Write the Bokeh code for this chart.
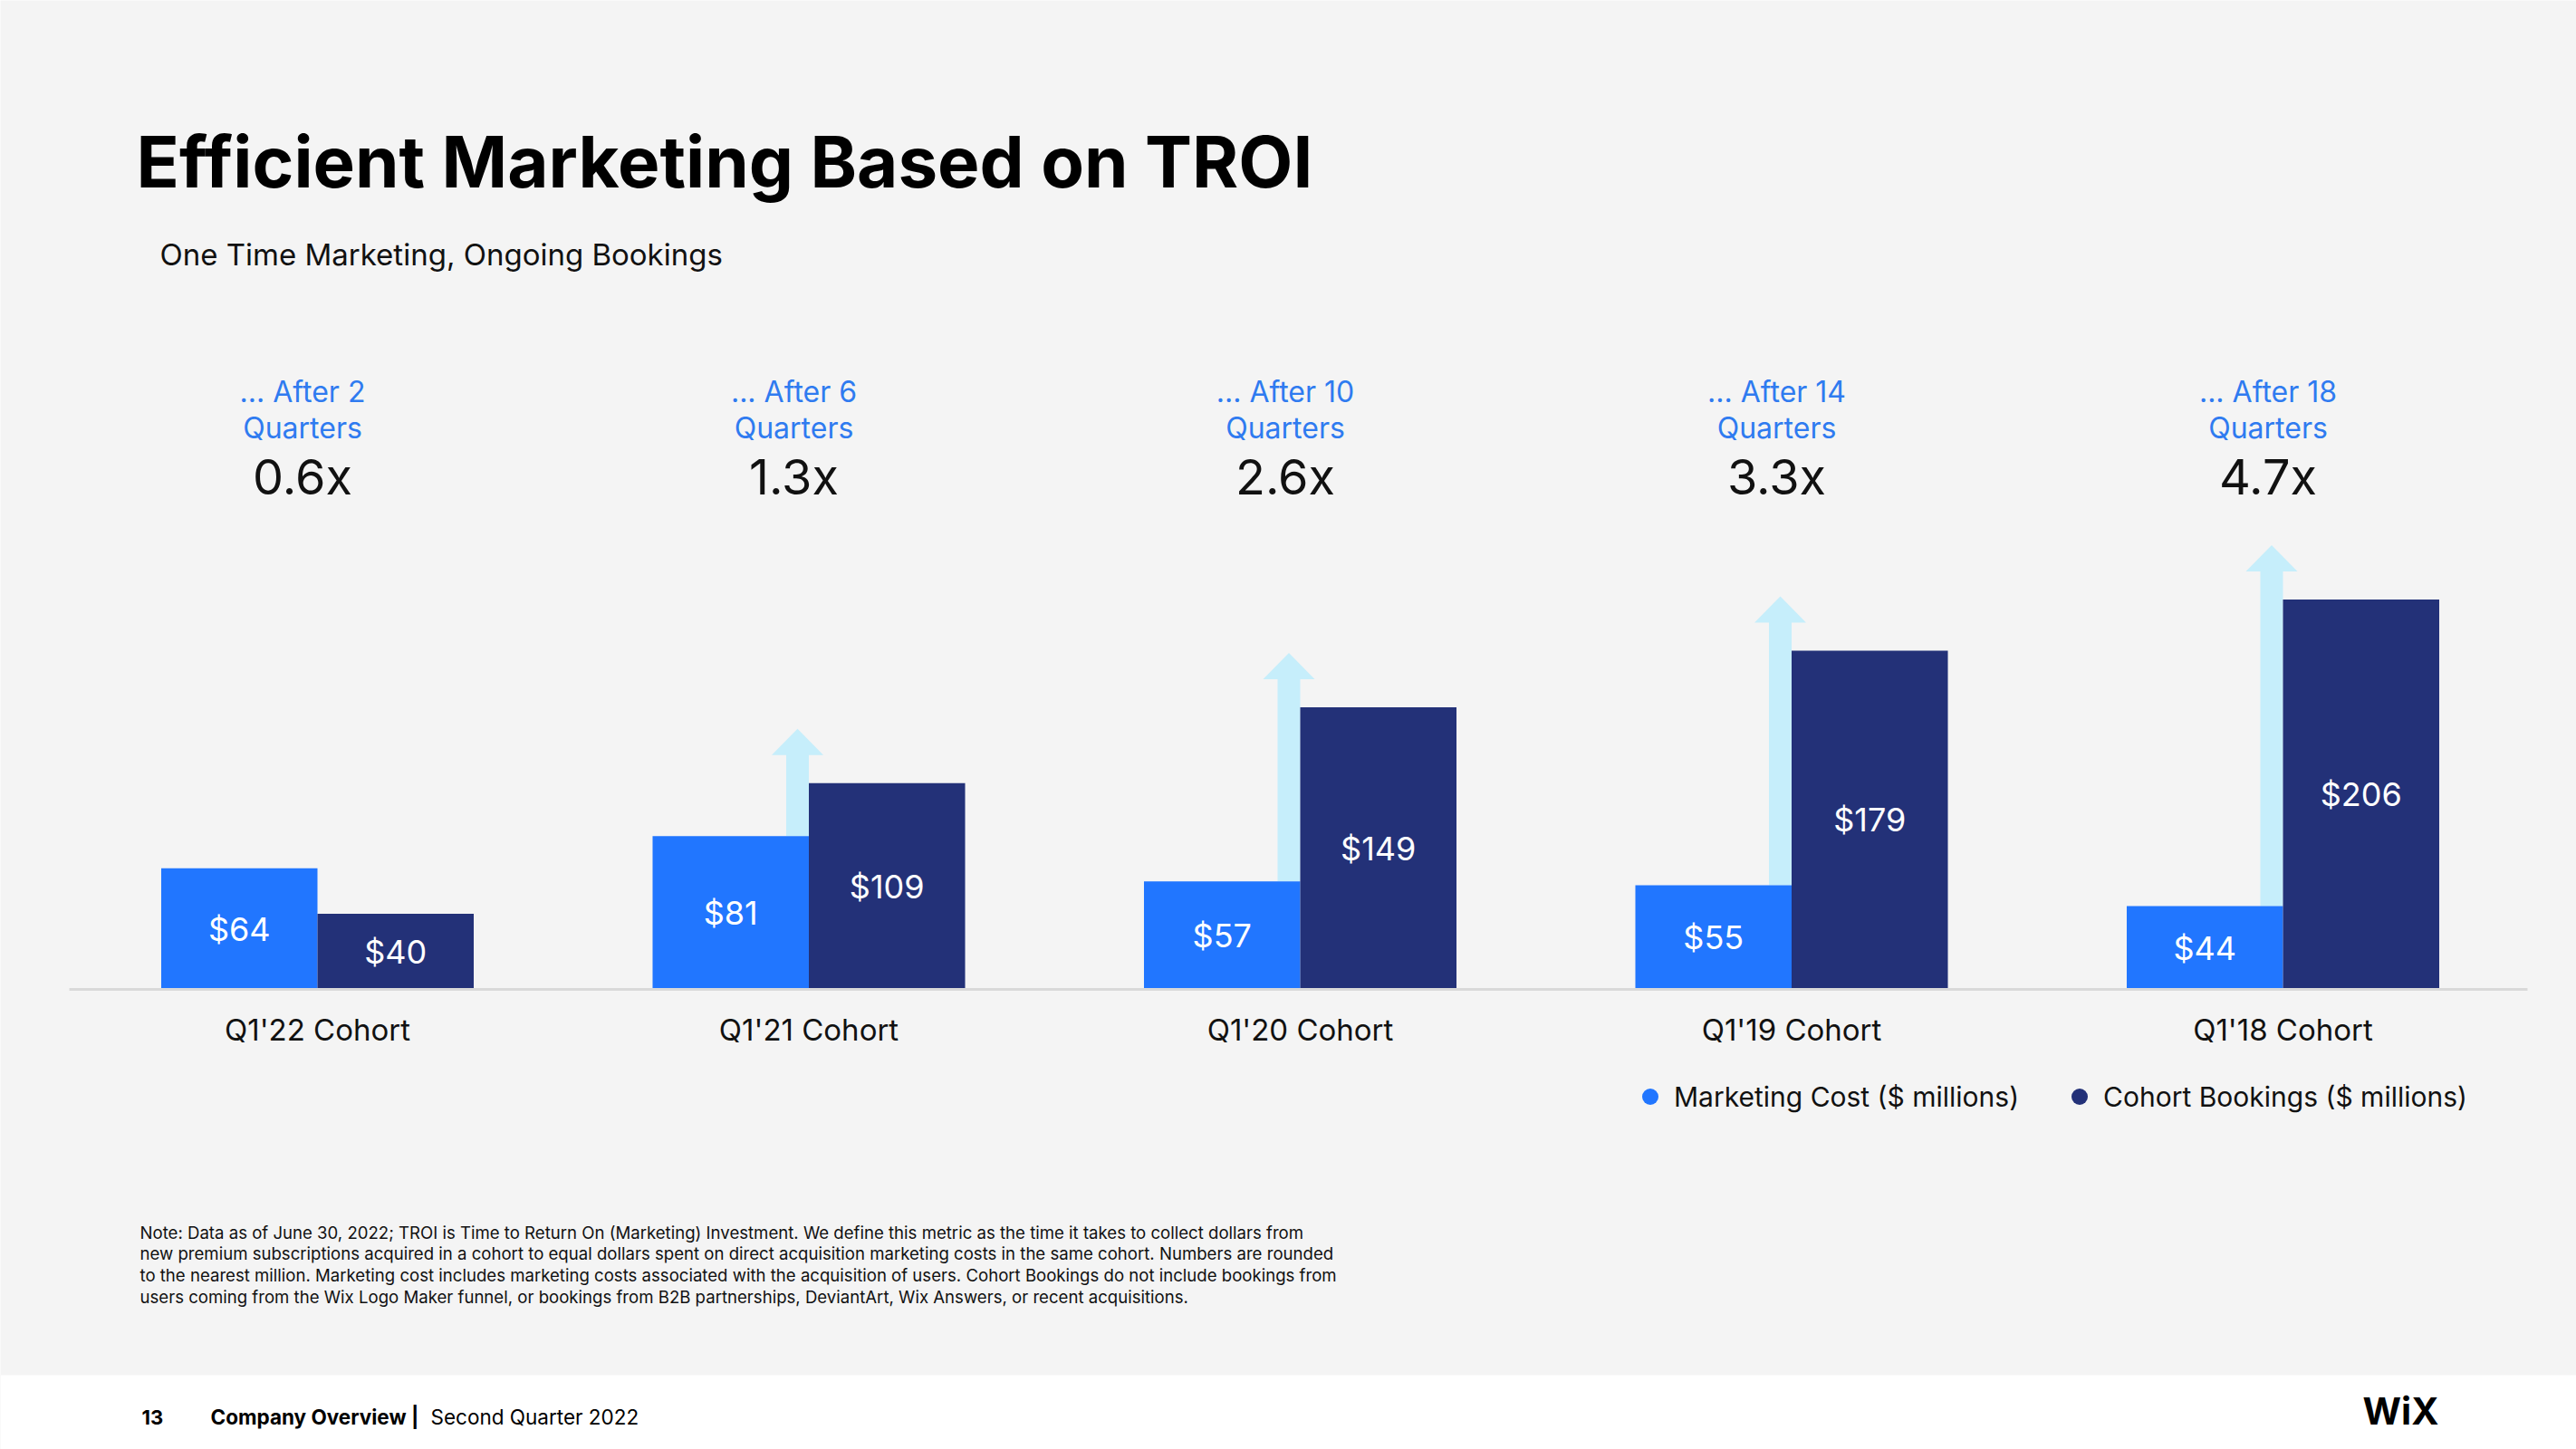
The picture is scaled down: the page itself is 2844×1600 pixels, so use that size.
from bokeh.plotting import figure
from bokeh.models import (Range1d, Label, ColumnDataSource, BoxAnnotation,
                          Legend, LegendItem)
from bokeh.core.properties import value
from bokeh.embed import file_html
from bokeh.resources import INLINE

# ---------------- data ----------------
cohorts = ["Q1'22 Cohort", "Q1'21 Cohort", "Q1'20 Cohort", "Q1'19 Cohort", "Q1'18 Cohort"]
marketing_cost = [64, 81, 57, 55, 44]          # $ millions
cohort_bookings = [40, 109, 149, 179, 206]     # $ millions
quarters_after = [2, 6, 10, 14, 18]
troi = ["0.6x", "1.3x", "2.6x", "3.3x", "4.7x"]

title_text = "Efficient Marketing Based on TROI"
subtitle_text = "One Time Marketing, Ongoing Bookings"
note_lines = [
    "Note: Data as of June 30, 2022; TROI is Time to Return On (Marketing) Investment. We define this metric as the time it takes to collect dollars from",
    "new premium subscriptions acquired in a cohort to equal dollars spent on direct acquisition marketing costs in the same cohort. Numbers are rounded",
    "to the nearest million. Marketing cost includes marketing costs associated with the acquisition of users. Cohort Bookings do not include bookings from",
    "users coming from the Wix Logo Maker funnel, or bookings from B2B partnerships, DeviantArt, Wix Answers, or recent acquisitions.",
]

# ---------------- style / layout ----------------
FONT = "Inter"
C_COST = "#2176FF"
C_BOOK = "#233178"
C_ARROW = "#C6EEFB"
C_HDR = "#2F7BF0"
BG = "#F4F4F4"

W, H = 2844, 1600
OFF = 0                     # bokeh's page template sets body margin to 0
GC0, GS = 350.0, 542.5      # page px of first group centre, px per group
BASE, PPU = 1092.0, 2.09    # page px of baseline, px per $1M


def X(px):
    return (px - GC0) / GS


def Y(py):
    return (BASE - py) / PPU


BW = 0.318
SHW = 25 / GS          # arrow shaft width
HW = 57 / GS           # arrow head width
HEAD_BASE = 31 / PPU   # head base above bookings bar
HEAD_TIP = 60 / PPU    # tip above bookings bar

xs = list(range(len(cohorts)))
src = ColumnDataSource(dict(
    x=xs,
    xl=[x - BW / 2 for x in xs],
    xd=[x + BW / 2 for x in xs],
    cost=marketing_cost,
    book=cohort_bookings,
    cost_mid=[v / 2 for v in marketing_cost],
    book_mid=[v / 2 for v in cohort_bookings],
    cost_lbl=[f"${v}" for v in marketing_cost],
    book_lbl=[f"${v}" for v in cohort_bookings],
    cohort=cohorts,
    hx=[x - SHW / 2 - 4 / GS for x in xs],
    hdr1=[f"... After {q}" for q in quarters_after],
    hdr2=["Quarters"] * len(xs),
    troi=troi,
))

p = figure(width=W, height=H,
           x_range=Range1d(X(OFF), X(OFF + W)),
           y_range=Range1d(Y(OFF + H), Y(OFF)),
           output_backend="svg", toolbar_location=None,
           x_axis_location=None, y_axis_location=None,
           min_border=0, background_fill_color=BG, border_fill_color=BG,
           outline_line_color=None)
p.grid.visible = False

# footer band
p.add_layout(BoxAnnotation(top=Y(1518), fill_color="white", fill_alpha=1.0,
                           line_color=None, level="underlay"))

# arrows (only where bookings exceed cost)
ax_l, ax_r, ab, at, hxs, hys = [], [], [], [], [], []
for x, c, b in zip(xs, marketing_cost, cohort_bookings):
    if b > c:
        cx = x - SHW / 2
        ax_l.append(x - SHW)
        ax_r.append(x)
        ab.append(c)
        at.append(b + HEAD_BASE + 0.5)
        hxs.append([cx - HW / 2, cx + HW / 2, cx])
        hys.append([b + HEAD_BASE, b + HEAD_BASE, b + HEAD_TIP])
p.quad(left=ax_l, right=ax_r, bottom=ab, top=at, fill_color=C_ARROW, line_color=None)
p.patches(xs=hxs, ys=hys, fill_color=C_ARROW, line_color=None)

# bars
r_cost = p.vbar(x="xl", top="cost", bottom=0, width=BW, source=src,
                fill_color=C_COST, line_color=None)
r_book = p.vbar(x="xd", top="book", bottom=0, width=BW, source=src,
                fill_color=C_BOOK, line_color=None)

# baseline
p.segment(x0=[X(76)], x1=[X(2790)], y0=[0], y1=[0], line_color="#D9D9D9", line_width=3)

# value labels
p.text(x="xl", y="cost_mid", text="cost_lbl", source=src, text_color="white",
       text_align="center", text_baseline="middle",
       text_font=value(FONT), text_font_size="36px")
p.text(x="xd", y="book_mid", text="book_lbl", source=src, text_color="white",
       text_align="center", text_baseline="middle",
       text_font=value(FONT), text_font_size="36px")

# cohort labels
p.text(x="x", y=Y(1136), text="cohort", source=src, text_color="#111111",
       text_align="center", text_baseline="middle",
       text_font=value(FONT), text_font_size="33px")

# headers
p.text(x="hx", y=Y(432), text="hdr1", source=src, text_color=C_HDR,
       text_align="center", text_baseline="middle",
       text_font=value(FONT), text_font_size="32px")
p.text(x="hx", y=Y(472), text="hdr2", source=src, text_color=C_HDR,
       text_align="center", text_baseline="middle",
       text_font=value(FONT), text_font_size="32px")
p.text(x="hx", y=Y(526), text="troi", source=src, text_color="#111111",
       text_align="center", text_baseline="middle",
       text_font=value(FONT), text_font_size="54px")

# legend (circle markers; NaN points are never drawn in the plot itself)
nan = float("nan")
r_leg1 = p.scatter(x=[nan], y=[nan], marker="circle", fill_color=C_COST, line_color=None)
r_leg2 = p.scatter(x=[nan], y=[nan], marker="circle", fill_color=C_BOOK, line_color=None)
legend = Legend(items=[LegendItem(label="Marketing Cost ($ millions)", renderers=[r_leg1]),
                       LegendItem(label="Cohort Bookings ($ millions)", renderers=[r_leg2])],
                orientation="horizontal", location=(1799, 351 + (H - 1584)),
                glyph_width=45, glyph_height=45, label_standoff=4, spacing=44,
                padding=0, margin=0, border_line_color=None,
                background_fill_alpha=0,
                label_text_font=FONT, label_text_font_size="30px",
                label_text_color="#111111")
p.add_layout(legend, "center")


def lab(text, px, py, size, bold=False, color="#000000", align="left", baseline="middle"):
    p.add_layout(Label(x=X(px), y=Y(py), text=text, text_font=FONT,
                       text_font_size=f"{size}px",
                       text_font_style="bold" if bold else "normal",
                       text_color=color, text_align=align, text_baseline=baseline))


lab(title_text, 150, 178, 78, bold=True)
lab(subtitle_text, 176, 280, 33, color="#111111")

for i, line in enumerate(note_lines):
    lab(line, 154, 1360 + i * 23.7, 18.6, color="#111111")

lab("13", 156, 1564, 22, bold=True)
lab("Company Overview |", 232, 1564, 22.5, bold=True)
lab("Second Quarter 2022", 475, 1564, 22.5)
lab("WiX", 2608, 1557, 41, bold=True)

html = file_html(p, INLINE)
html = html.replace("<body>", '<body style="background:linear-gradient(#f4f4f4 0px, #f4f4f4 1518px, #ffffff 1518px)">', 1)
open("out.html", "w").write(html)
